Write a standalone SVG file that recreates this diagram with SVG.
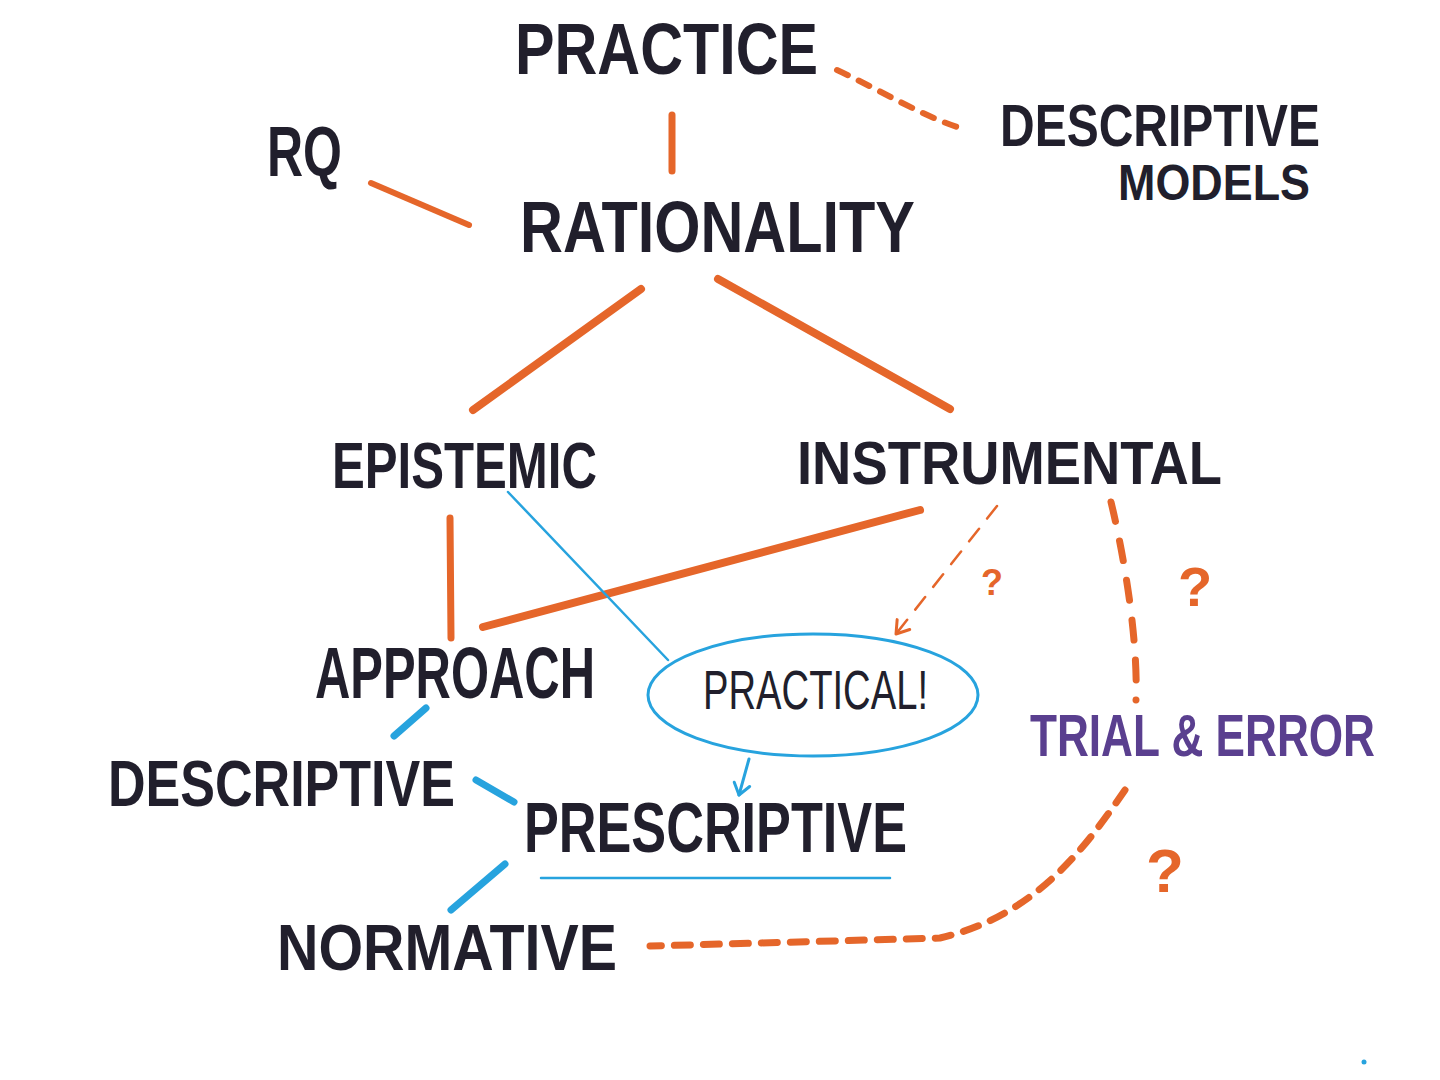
<svg xmlns="http://www.w3.org/2000/svg" width="1440" height="1080" viewBox="0 0 1440 1080">
<defs>
<style>
.t{font-family:"Liberation Sans",Arial,sans-serif;font-weight:bold;fill:#211f2c}
.p{fill:#5a3f8f}
.thin{font-weight:normal}
.o{stroke:#e5662a;fill:none;stroke-linecap:round}
.b{stroke:#27a3de;fill:none;stroke-linecap:round}
.q{font-family:"Liberation Sans",Arial,sans-serif;font-weight:bold;fill:#e5662a}
</style>
<marker id="ao" markerWidth="20" markerHeight="20" refX="0" refY="0" orient="auto" markerUnits="userSpaceOnUse" overflow="visible">
<path d="M-12,-8 L0,0 L-12,8" fill="none" stroke="#e5662a" stroke-width="3" stroke-linecap="round" stroke-linejoin="round"/>
</marker>
<marker id="ab" markerWidth="20" markerHeight="20" refX="0" refY="0" orient="auto" markerUnits="userSpaceOnUse" overflow="visible">
<path d="M-11,-8 L0,0 L-11,8" fill="none" stroke="#27a3de" stroke-width="3" stroke-linecap="round" stroke-linejoin="round"/>
</marker>
</defs>
<rect width="1440" height="1080" fill="#ffffff"/>
<g id="connectors">
<line class="o" x1="672" y1="115" x2="672" y2="171" stroke-width="7"/>
<line class="o" x1="371" y1="183" x2="469" y2="225" stroke-width="6"/>
<path class="o" d="M837,70 C880,90 920,115 960,128" stroke-width="6" stroke-dasharray="12 12"/>
<line class="o" x1="641" y1="289" x2="473" y2="410" stroke-width="8"/>
<line class="o" x1="718" y1="279" x2="950" y2="409" stroke-width="8"/>
<line class="o" x1="450" y1="518" x2="451" y2="638" stroke-width="7"/>
<line class="o" x1="920" y1="510" x2="483" y2="627" stroke-width="8"/>
<path class="o" d="M1111,502 C1125,560 1138,640 1136,700" stroke-width="7" stroke-dasharray="20 20"/>
<path class="o" d="M997,506 L896,634" stroke-width="2.5" stroke-dasharray="16 13" marker-end="url(#ao)"/>
<path class="o" d="M1125,790 C1090,840 1040,915 940,938 L650,946" stroke-width="7" stroke-dasharray="16 13"/>
<line class="b" x1="508" y1="492" x2="668" y2="660" stroke-width="2.5"/>
<line class="b" x1="749" y1="759" x2="739" y2="795" stroke-width="3" marker-end="url(#ab)"/>
<line class="b" x1="426" y1="708" x2="394" y2="736" stroke-width="7"/>
<line class="b" x1="476" y1="780" x2="514" y2="802" stroke-width="7"/>
<line class="b" x1="505" y1="864" x2="451" y2="910" stroke-width="7"/>
<line class="b" x1="541" y1="878" x2="890" y2="878" stroke-width="2.5"/>
</g>
<g id="practice"><text class="t" x="515" y="74" font-size="72" textLength="303" lengthAdjust="spacingAndGlyphs">PRACTICE</text></g>
<g id="rq"><text class="t" x="267" y="176" font-size="70" textLength="75" lengthAdjust="spacingAndGlyphs">RQ</text></g>
<g id="rationality"><text class="t" x="520" y="252" font-size="72" textLength="395" lengthAdjust="spacingAndGlyphs">RATIONALITY</text></g>
<g id="descriptive-models">
<text class="t" x="1000" y="146" font-size="60" textLength="320" lengthAdjust="spacingAndGlyphs">DESCRIPTIVE</text>
<text class="t" x="1118" y="200" font-size="50" textLength="192" lengthAdjust="spacingAndGlyphs">MODELS</text>
</g>
<g id="epistemic"><text class="t" x="332" y="488" font-size="64" textLength="265" lengthAdjust="spacingAndGlyphs">EPISTEMIC</text></g>
<g id="instrumental"><text class="t" x="797" y="484" font-size="62" textLength="425" lengthAdjust="spacingAndGlyphs">INSTRUMENTAL</text></g>
<g id="approach"><text class="t" x="315" y="698" font-size="72" textLength="280" lengthAdjust="spacingAndGlyphs">APPROACH</text></g>
<g id="practical">
<ellipse cx="813" cy="695" rx="165" ry="61" fill="none" stroke="#27a3de" stroke-width="3"/>
<text class="t thin" x="703" y="709" font-size="56" textLength="225" lengthAdjust="spacingAndGlyphs">PRACTICAL!</text>
</g>
<g id="descriptive"><text class="t" x="108" y="806" font-size="64" textLength="347" lengthAdjust="spacingAndGlyphs">DESCRIPTIVE</text></g>
<g id="prescriptive"><text class="t" x="524" y="852" font-size="70" textLength="383" lengthAdjust="spacingAndGlyphs">PRESCRIPTIVE</text></g>
<g id="normative"><text class="t" x="277" y="970" font-size="64" textLength="340" lengthAdjust="spacingAndGlyphs">NORMATIVE</text></g>
<g id="trial-error"><text class="t p" transform="translate(1030,756) scale(1,1.2)" x="0" y="0" font-size="50" textLength="345" lengthAdjust="spacingAndGlyphs">TRIAL &amp; ERROR</text></g>
<g id="marks">
<text class="q thin" x="981" y="595" font-size="36">?</text>
<text class="q" x="1178" y="606" font-size="56">?</text>
<text class="q" x="1146" y="892" font-size="62">?</text>
<circle cx="1364" cy="1062" r="2.5" fill="#27a3de"/>
</g>
</svg>
